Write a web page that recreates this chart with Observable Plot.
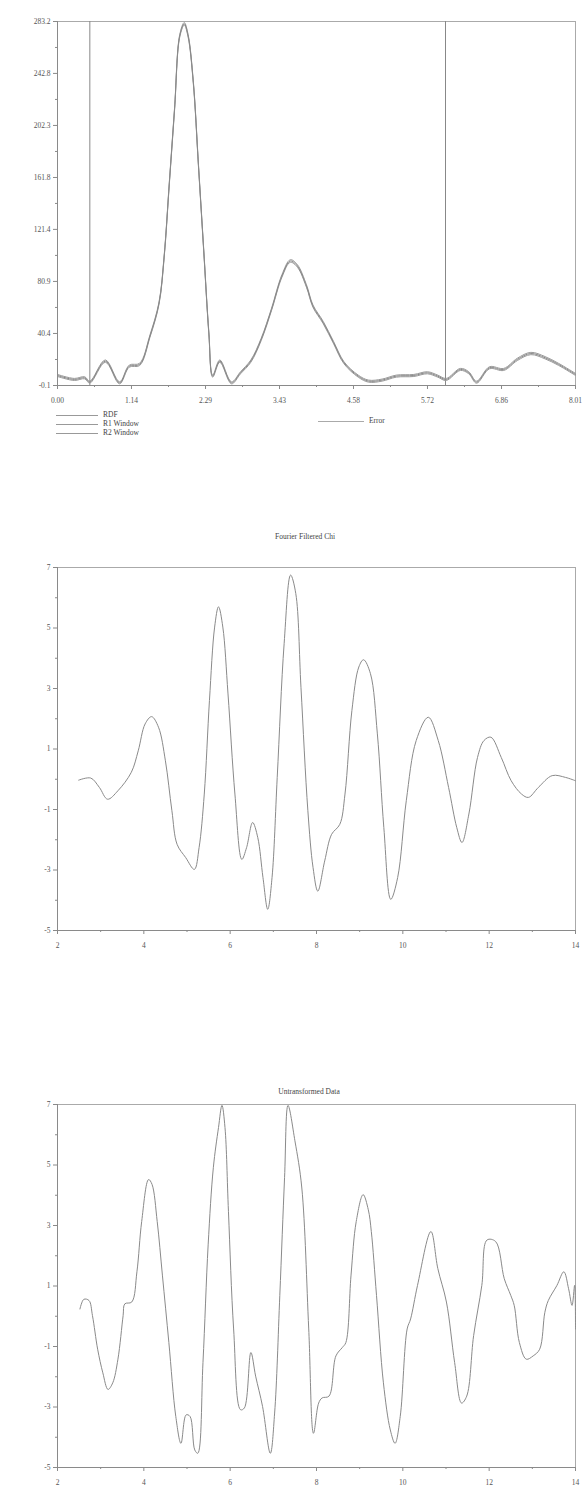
<!DOCTYPE html>
<html>
<head>
<meta charset="utf-8">
<script src="https://cdn.jsdelivr.net/npm/d3@7"></script>
<script src="https://cdn.jsdelivr.net/npm/@observablehq/plot@0.6"></script>
<style>
  html, body { margin: 0; padding: 0; background: #fff; }
  #root { position: relative; width: 582px; height: 1495px; font-family: "Liberation Serif", "DejaVu Serif", serif; color: #555; }
  .abs { position: absolute; }
  .title { font-size: 7.5px; color: #444; text-align: center; width: 200px; }
  .leg { font-size: 7.5px; color: #444; line-height: 9px; }
</style>
</head>
<body>
<div id="root"></div>
<script>
// ---------- Top chart: RDF (magnitude of Fourier transform) ----------
const rdfX = [0, 0.26, 0.42, 0.5, 0.74, 0.96, 1.11, 1.27, 1.43, 1.57, 1.65, 1.73, 1.81, 1.89, 1.96, 2.02, 2.10, 2.18, 2.26, 2.34, 2.40, 2.51, 2.69, 2.83, 2.99, 3.15, 3.31, 3.47, 3.60, 3.71, 3.85, 3.95, 4.11, 4.27, 4.43, 4.65, 4.81, 5.02, 5.24, 5.51, 5.72, 5.88, 6.01, 6.23, 6.36, 6.48, 6.68, 6.90, 7.11, 7.32, 7.54, 7.75, 8.01];
const rdfY = [7.7, 4.6, 5.9, 2.5, 18.9, 2.0, 15.0, 16.3, 38.4, 64.0, 100.7, 158.0, 215.0, 272.0, 281.4, 272.0, 236.0, 171.0, 106.0, 41.0, 7.2, 18.9, 2.0, 9.8, 18.9, 35.8, 59.2, 85.1, 96.8, 92.9, 77.3, 61.7, 48.8, 33.2, 17.6, 7.2, 3.3, 4.1, 7.2, 7.7, 9.8, 7.2, 4.6, 12.4, 9.8, 2.5, 13.7, 12.4, 20.2, 24.8, 21.5, 16.3, 8.5];
const rdfErr = [0.8, 0.8, 0.8, 0.8, 0.9, 0.8, 0.8, 0.9, 0.9, 0.9, 0.9, 1.0, 1.0, 1.0, 1.0, 1.0, 1.0, 1.0, 0.9, 0.9, 0.8, 0.9, 0.8, 0.8, 0.9, 0.9, 0.9, 1.0, 1.0, 1.0, 1.0, 0.9, 0.9, 0.9, 0.8, 0.8, 0.8, 0.8, 0.8, 0.8, 0.8, 0.8, 0.8, 0.8, 0.8, 0.8, 0.8, 0.8, 0.9, 0.9, 0.9, 0.8, 0.8];
const windows = [0.5, 6.0];
const rdfXTicks = [0, 1.144, 2.289, 3.433, 4.577, 5.721, 6.866, 8.01];
const rdfXLabels = ["0.00", "1.14", "2.29", "3.43", "4.58", "5.72", "6.86", "8.01"];
const rdfYTicks = [-0.1, 40.4, 80.9, 121.4, 161.8, 202.3, 242.8, 283.2];
const rdfYLabels = ["-0.1", "40.4", "80.9", "121.4", "161.8", "202.3", "242.8", "283.2"];
const legendLabels = ["RDF", "R1 Window", "R2 Window"];
const errorLabel = "Error";

// ---------- Middle chart: Fourier Filtered Chi ----------
const filtK = [2.49, 2.77, 2.97, 3.16, 3.40, 3.71, 3.87, 4.03, 4.18, 4.34, 4.50, 4.65, 4.77, 4.97, 5.17, 5.28, 5.40, 5.52, 5.64, 5.73, 5.83, 5.95, 6.11, 6.27, 6.38, 6.52, 6.64, 6.76, 6.87, 6.97, 7.09, 7.25, 7.40, 7.52, 7.64, 7.80, 7.92, 8.03, 8.19, 8.35, 8.54, 8.66, 8.82, 8.98, 9.09, 9.25, 9.41, 9.56, 9.72, 9.88, 10.08, 10.31, 10.59, 10.82, 11.06, 11.25, 11.37, 11.53, 11.73, 11.88, 12.04, 12.28, 12.51, 12.75, 12.91, 13.14, 13.46, 13.77, 14.0];
const filtChi = [-0.03, 0.04, -0.27, -0.66, -0.38, 0.23, 0.94, 1.83, 2.07, 1.72, 0.61, -1.04, -2.15, -2.59, -2.98, -2.26, -0.49, 2.60, 5.03, 5.70, 5.03, 2.82, -0.49, -2.65, -2.26, -1.43, -1.93, -3.25, -4.30, -3.25, 0.06, 4.48, 6.75, 6.14, 3.04, -1.04, -2.92, -3.70, -2.70, -1.82, -1.49, -0.49, 2.27, 3.71, 3.95, 3.49, 1.50, -1.60, -3.97, -3.25, -0.71, 1.28, 2.05, 1.28, -0.27, -1.60, -2.09, -1.15, 0.72, 1.28, 1.39, 0.72, -0.05, -0.49, -0.60, -0.27, 0.12, 0.06, -0.05];

// ---------- Bottom chart: Untransformed Data ----------
const rawK = [2.52, 2.61, 2.73, 2.81, 2.93, 3.05, 3.17, 3.28, 3.40, 3.52, 3.56, 3.72, 3.84, 3.95, 4.11, 4.19, 4.31, 4.43, 4.58, 4.74, 4.86, 4.98, 5.07, 5.18, 5.25, 5.37, 5.49, 5.61, 5.73, 5.81, 5.88, 5.96, 6.08, 6.24, 6.33, 6.48, 6.59, 6.75, 6.93, 7.03, 7.15, 7.26, 7.34, 7.50, 7.66, 7.82, 7.93, 8.05, 8.13, 8.29, 8.45, 8.60, 8.68, 8.80, 8.92, 9.08, 9.20, 9.27, 9.39, 9.55, 9.71, 9.82, 9.94, 10.10, 10.18, 10.34, 10.65, 10.81, 11.01, 11.20, 11.36, 11.48, 11.64, 11.83, 11.95, 12.15, 12.35, 12.50, 12.58, 12.70, 12.86, 13.02, 13.17, 13.29, 13.37, 13.57, 13.73, 13.84, 13.92, 13.98, 14.0];
const rawChi = [0.24, 0.56, 0.52, 0.02, -1.09, -1.87, -2.42, -2.20, -1.42, 0.02, 0.41, 0.47, 1.47, 3.13, 4.52, 4.36, 3.13, 1.36, -0.87, -3.31, -4.20, -3.26, -3.31, -4.42, -4.53, -1.53, 2.36, 4.91, 6.24, 6.97, 6.24, 3.47, -0.42, -3.09, -3.03, -1.20, -1.98, -2.98, -4.53, -3.20, 0.69, 4.58, 6.97, 5.80, 4.24, -0.42, -3.87, -2.87, -2.70, -2.64, -1.31, -1.03, -0.87, 1.36, 3.13, 4.02, 3.52, 2.80, 0.69, -2.20, -3.76, -4.20, -3.31, -0.42, -0.09, 1.02, 2.80, 1.58, 0.47, -1.53, -2.87, -2.64, -0.64, 1.02, 2.52, 2.47, 1.24, 0.69, 0.36, -0.87, -1.42, -1.31, -1.09, 0.13, 0.52, 1.02, 1.47, 0.91, 0.36, 1.02, -0.42];

const kTicks = [2, 4, 6, 8, 10, 12, 14];
const kMinor = [3, 5, 7, 9, 11, 13];
const chiTicks = [-5, -3, -1, 1, 3, 5, 7];
const chiLabels = ["-5", "-3", "-1", "1", "3", "5", "7"];
const chiMinor = [-4, -2, 0, 2, 4, 6];
const titles = ["Fourier Filtered Chi", "Untransformed Data"];

// ---------- build ----------
const root = document.getElementById("root");
const W = 582;
const axisColor = "#8a8a8a";
const lineColor = "#8a8a8a";
const baseStyle = { fontFamily: "Liberation Serif, DejaVu Serif, serif", fontSize: "7.5px", color: "#555", background: "transparent", overflow: "visible" };

function mids(a) { const m = []; for (let i = 0; i < a.length - 1; i++) m.push((a[i] + a[i + 1]) / 2); return m; }

function place(el, topPx, leftPx) {
  el.classList.add("abs");
  el.style.top = topPx + "px";
  el.style.left = (leftPx || 0) + "px";
  root.appendChild(el);
}

// Top chart
const rdf = rdfX.map((x, i) => ({ x, y: rdfY[i], e: rdfErr[i] }));
const rdfChart = Plot.plot({
  width: W, height: 410,
  marginLeft: 57, marginRight: 7, marginTop: 21, marginBottom: 25,
  style: baseStyle,
  x: { domain: [0, 8.01], label: null },
  y: { domain: [-0.1, 283.2], label: null },
  marks: [
    Plot.frame({ stroke: "#aaa" }),
    Plot.axisX({ ticks: mids(rdfXTicks), tickSize: 2, tickFormat: () => "", stroke: axisColor, label: null }),
    Plot.axisX({ ticks: rdfXTicks, tickSize: 4, tickPadding: 8, tickFormat: d => rdfXLabels[rdfXTicks.indexOf(d)], stroke: axisColor, fill: "#555", label: null }),
    Plot.axisY({ ticks: mids(rdfYTicks), tickSize: 2, tickFormat: () => "", stroke: axisColor, label: null }),
    Plot.axisY({ ticks: rdfYTicks, tickSize: 4, tickPadding: 3, tickFormat: d => rdfYLabels[rdfYTicks.indexOf(d)], stroke: axisColor, fill: "#555", label: null }),
    Plot.ruleX(windows, { stroke: "#888", strokeWidth: 1 }),
    Plot.line(rdf, { x: "x", y: d => d.y + d.e, stroke: "#999", strokeWidth: 1, curve: "catmull-rom" }),
    Plot.line(rdf, { x: "x", y: d => d.y - d.e, stroke: "#999", strokeWidth: 1, curve: "catmull-rom" }),
    Plot.line(rdf, { x: "x", y: "y", stroke: "#888", strokeWidth: 1, curve: "catmull-rom" }),
    Plot.ruleX([0], { stroke: axisColor }),
    Plot.ruleY([-0.1], { stroke: axisColor })
  ]
});
place(rdfChart, 0, 0);

// Legend below top chart
legendLabels.forEach((lab, i) => {
  const ln = document.createElement("div");
  ln.style.cssText = "width:42px;height:0;border-top:1px solid #999;";
  place(ln, 415 + i * 9, 56);
  const tx = document.createElement("div");
  tx.className = "leg";
  tx.textContent = lab;
  place(tx, 410 + i * 9, 103);
});
{
  const ln = document.createElement("div");
  ln.style.cssText = "width:46px;height:0;border-top:1px solid #aaa;";
  place(ln, 421, 318);
  const tx = document.createElement("div");
  tx.className = "leg";
  tx.textContent = errorLabel;
  place(tx, 416, 369);
}

function chiPlot(ks, chis) {
  const data = ks.map((k, i) => ({ k, c: chis[i] }));
  return Plot.plot({
    width: W, height: 405,
    marginLeft: 57, marginRight: 7, marginTop: 17, marginBottom: 25,
    style: baseStyle,
    x: { domain: [2, 14], label: null },
    y: { domain: [-5, 7], label: null },
    marks: [
      Plot.frame({ stroke: "#aaa" }),
      Plot.axisX({ ticks: kMinor, tickSize: 2, tickFormat: () => "", stroke: axisColor, label: null }),
      Plot.axisX({ ticks: kTicks, tickSize: 4, tickPadding: 8, tickFormat: d => String(d), stroke: axisColor, fill: "#555", label: null }),
      Plot.axisY({ ticks: chiMinor, tickSize: 2, tickFormat: () => "", stroke: axisColor, label: null }),
      Plot.axisY({ ticks: chiTicks, tickSize: 4, tickPadding: 3, tickFormat: d => chiLabels[chiTicks.indexOf(d)], stroke: axisColor, fill: "#555", label: null }),
      Plot.line(data, { x: "k", y: "c", stroke: lineColor, strokeWidth: 1, curve: "catmull-rom" }),
      Plot.ruleX([2], { stroke: axisColor }),
      Plot.ruleY([-5], { stroke: axisColor })
    ]
  });
}

const t1 = document.createElement("div");
t1.className = "title"; t1.textContent = titles[0];
place(t1, 532, 205);
place(chiPlot(filtK, filtChi), 550, 0);

const t2 = document.createElement("div");
t2.className = "title"; t2.textContent = titles[1];
place(t2, 1087, 209);
place(chiPlot(rawK, rawChi), 1087, 0);
</script>
</body>
</html>
